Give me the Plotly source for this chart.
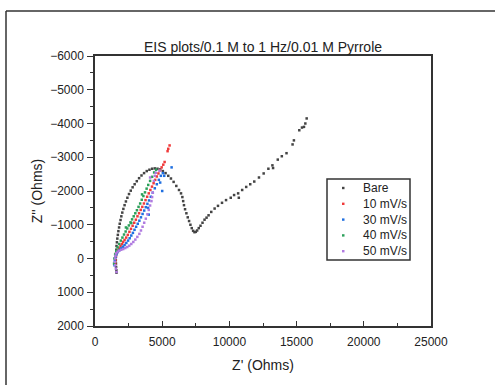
import plotly.graph_objects as go

bare_x = [1600,1590,1570,1560,1550,1550,1560,1580,1600,1630,1660,1700,1740,1790,1840,1900,1960,2030,2110,2200,2300,2410,2530,2660,2800,2950,3110,3280,3460,3650,3850,4050,4250,4450,4650,4850,5050,5250,5450,5650,5850,6050,6250,6400,6500,6560,6620,6700,6800,6900,7000,7100,7200,7300,7400,7500,7600,7720,7850,8000,8150,8300,8450,8650,8900,9150,9450,9750,10100,10350,10650,10700,10950,11250,11550,11850,12200,12550,12900,13200,13250,13600,13900,14250,14700,14800,15200,15400,15550,15650,15750]
bare_y = [420,350,250,150,50,-50,-150,-260,-370,-480,-590,-700,-810,-920,-1030,-1140,-1250,-1360,-1470,-1580,-1690,-1800,-1910,-2010,-2110,-2200,-2290,-2380,-2460,-2530,-2590,-2630,-2660,-2670,-2660,-2640,-2590,-2530,-2450,-2370,-2270,-2150,-2030,-1930,-1820,-1700,-1580,-1460,-1340,-1220,-1110,-1000,-900,-820,-780,-790,-830,-900,-970,-1060,-1150,-1210,-1280,-1380,-1480,-1560,-1650,-1730,-1800,-1880,-1930,-1800,-2030,-2120,-2200,-2280,-2400,-2520,-2660,-2760,-2680,-2930,-3030,-3120,-3380,-3500,-3800,-3880,-3900,-4000,-4150]

mv10_x = [1500,1520,1560,1620,1700,1800,1900,2000,2100,2200,2320,2440,2560,2680,2800,2920,3040,3160,3280,3400,3520,3640,3760,3880,4000,4120,4240,4360,4480,4600,4720,4840,4960,5080,5180,5400,5450,5550]
mv10_y = [150,50,-60,-150,-230,-300,-370,-430,-490,-550,-620,-700,-790,-880,-970,-1060,-1150,-1250,-1340,-1440,-1530,-1630,-1730,-1830,-1930,-2030,-2130,-2230,-2330,-2430,-2520,-2610,-2700,-2780,-2860,-3180,-3250,-3350]

mv30_x = [1450,1470,1520,1600,1700,1820,1950,2080,2200,2330,2460,2580,2700,2820,2940,3060,3180,3300,3420,3540,3660,3780,3900,4020,4150,4300,4450,4600,4750,4900,5050,4850,5000,5150,5700,4000,3950]
mv30_y = [200,80,-30,-120,-190,-250,-300,-350,-400,-460,-530,-600,-680,-760,-850,-940,-1030,-1120,-1220,-1320,-1420,-1520,-1620,-1720,-1830,-1950,-2080,-2200,-2330,-2450,-2530,-2250,-2000,-2450,-2700,-1300,-1500]

mv40_x = [1420,1440,1500,1580,1680,1800,1920,2040,2160,2280,2400,2520,2640,2760,2880,3000,3120,3240,3360,3480,3600,3720,3840,3960,4100,4250,4400,4550,2300,2700,3500]
mv40_y = [150,0,-120,-230,-330,-430,-530,-620,-710,-800,-890,-980,-1070,-1160,-1250,-1340,-1430,-1530,-1630,-1740,-1850,-1960,-2070,-2180,-2300,-2420,-2550,-2630,-920,-1050,-1900]

mv50_x = [1600,1550,1500,1480,1490,1520,1580,1680,1800,1950,2100,2250,2400,2550,2700,2850,3000,3150,3300,3420,3540,3660,3780,3900,4000,4100,4200,4250,4300,4380,4450,4520,4100,4800]
mv50_y = [400,300,200,100,0,-80,-150,-200,-230,-260,-280,-310,-340,-380,-430,-490,-560,-640,-730,-830,-940,-1060,-1180,-1310,-1440,-1570,-1700,-1820,-1950,-2300,-2450,-2540,-2400,-2600]

series_names = ["Bare", "10 mV/s", "30 mV/s", "40 mV/s", "50 mV/s"]
series_colors = ["#444444", "#f03a3a", "#1f6fe0", "#2ca05a", "#b07be0"]
series_data = [(bare_x, bare_y), (mv10_x, mv10_y), (mv30_x, mv30_y), (mv40_x, mv40_y), (mv50_x, mv50_y)]

fig = go.Figure()
for name, color, (xs, ys) in zip(series_names, series_colors, series_data):
    fig.add_trace(go.Scatter(x=xs, y=ys, mode="markers", name=name, showlegend=False,
                             marker=dict(symbol="square", size=2.5, color=color, line=dict(width=0))))

font = "Liberation Sans, Arial, sans-serif"
W, H = 495, 385
L, R, T, B = 95, 64, 56, 59
pw, ph = W - L - R, H - T - B

def px2x(px):
    return (px - L) / pw

def py2y(py):
    return (H - B - py) / ph

fig.update_layout(
    width=W, height=H,
    margin=dict(l=L, r=R, t=T, b=B),
    paper_bgcolor="white", plot_bgcolor="white",
    font=dict(family=font, size=12, color="#222"),
    title=dict(text="EIS plots/0.1 M to 1 Hz/0.01 M Pyrrole", x=(263/495), xanchor="center",
               y=1 - 47/385, yanchor="middle", font=dict(size=14, color="#222")),
    showlegend=False,
)
fig.update_xaxes(range=[0, 25000], dtick=5000, tickformat="d", showgrid=False, zeroline=False,
                 showline=True, linecolor="#333", linewidth=1.5, mirror=True,
                 ticks="inside", ticklen=5, tickcolor="#333", ticklabelstandoff=4,
                 minor=dict(ticks="inside", dtick=2500, ticklen=3, tickcolor="#333"),
                 tickfont=dict(size=12), title=dict(text="Z' (Ohms)", font=dict(size=14), standoff=12))
fig.update_yaxes(range=[2000, -6000], dtick=1000, tickformat="d", showgrid=False, zeroline=False,
                 showline=True, linecolor="#333", linewidth=1.5, mirror=True,
                 ticks="outside", ticklen=6, tickcolor="#333", ticklabelstandoff=1,
                 minor=dict(ticks="outside", dtick=500, ticklen=3, tickcolor="#333"),
                 tickfont=dict(size=12), title=dict(text="Z'' (Ohms)", font=dict(size=14), standoff=4))

# custom legend box
fig.add_shape(type="rect", xref="paper", yref="paper", x0=px2x(327), x1=px2x(410),
              y0=py2y(260), y1=py2y(179), line=dict(color="#333", width=1.5), fillcolor="white")
for i, (name, color) in enumerate(zip(series_names, series_colors)):
    row_y = 188 + i * 15.8
    fig.add_shape(type="rect", xref="paper", yref="paper",
                  x0=px2x(342), x1=px2x(344.5), y0=py2y(row_y + 1.2), y1=py2y(row_y - 1.2),
                  line=dict(width=0), fillcolor=color)
    fig.add_annotation(text=name, xref="paper", yref="paper", x=px2x(361), y=py2y(row_y),
                       xanchor="left", yanchor="middle", showarrow=False,
                       font=dict(size=12, color="#222"))

# outer frame
fig.add_shape(type="line", xref="paper", yref="paper", x0=px2x(6), x1=px2x(500),
              y0=py2y(11), y1=py2y(11), line=dict(color="#333", width=1.5))
fig.add_shape(type="line", xref="paper", yref="paper", x0=px2x(6), x1=px2x(6),
              y0=py2y(11), y1=py2y(390), line=dict(color="#333", width=1.5))

fig.write_html("out.html")
